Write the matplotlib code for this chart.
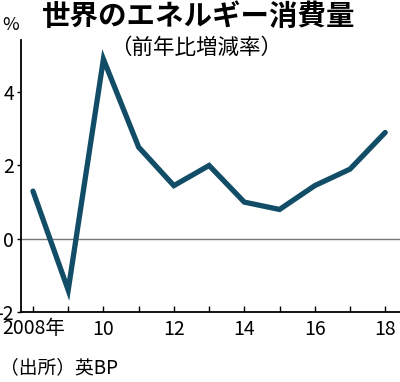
import matplotlib
matplotlib.use("Agg")
import matplotlib.pyplot as plt

plt.rcParams['font.family'] = ['Noto Sans CJK JP', 'DejaVu Sans']

# data
years = [2008, 2009, 2010, 2011, 2012, 2013, 2014, 2015, 2016, 2017, 2018]
growth = [1.3, -1.4, 4.9, 2.5, 1.45, 2.0, 1.0, 0.8, 1.45, 1.9, 2.9]
xtick_pos = [2010, 2012, 2014, 2016, 2018]
xtick_labels = ["10", "12", "14", "16", "18"]
first_label = "2008年"
ytick_pos = [-2, 0, 2, 4]

fig = plt.figure(figsize=(4.0, 3.82), dpi=100)
ax = fig.add_axes([0.0525, 0.183, 0.9475, 0.712])

ax.axhline(0, color="#777777", lw=1.0, zorder=1)
ax.plot(years, growth, color="#114d66", lw=3.8, solid_capstyle="round",
        solid_joinstyle="miter", zorder=3)

ax.set_xlim(2007.66, 2018.42)
ax.set_ylim(-2, 5.42)

ax.spines["top"].set_visible(False)
ax.spines["right"].set_visible(False)
ax.spines["left"].set_linewidth(1.3)
ax.spines["bottom"].set_linewidth(1.3)

ax.set_xticks(range(2008, 2019))
ax.set_xticklabels([xtick_labels[xtick_pos.index(y)] if y in xtick_pos else ""
                    for y in range(2008, 2019)])
ax.set_yticks(ytick_pos)
ax.set_yticklabels([str(v) for v in ytick_pos])
ax.tick_params(axis="x", direction="in", length=4, width=1, labelsize=14, pad=5)
ax.tick_params(axis="y", direction="out", length=3, width=1, labelsize=14, pad=2)

# first year label is left-aligned like the reference
ax.annotate(first_label, xy=(years[0], 0), xycoords=("data", "axes fraction"),
            xytext=(-31, -6), textcoords="offset pixels",
            ha="left", va="top", fontsize=14)

fig.text(0.497, 0.955, "世界のエネルギー消費量", ha="center", va="center",
         fontsize=20.5, fontweight="bold")
fig.text(0.49, 0.875, "（前年比増減率）", ha="center", va="center", fontsize=15.5)
fig.text(0.005, 0.935, "%", ha="left", va="center", fontsize=13)
fig.text(0.0, 0.038, "（出所）英BP", ha="left", va="center", fontsize=13.5)

fig.savefig("out.png", dpi=100)
